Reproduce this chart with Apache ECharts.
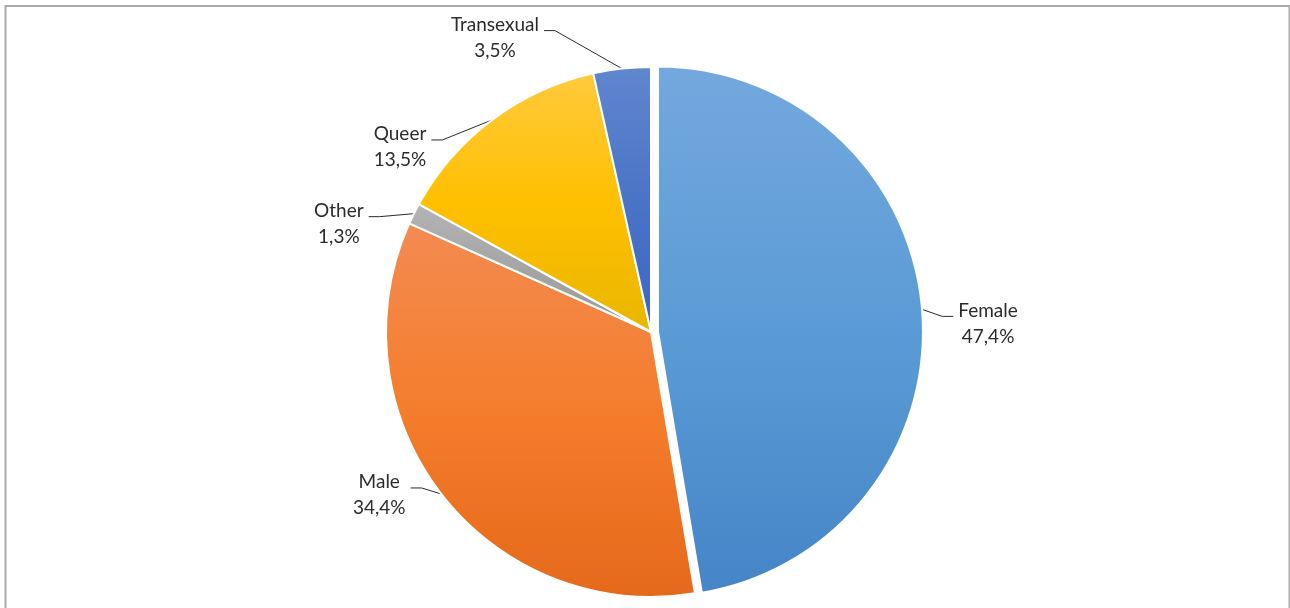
<!DOCTYPE html>
<html>
<head>
<meta charset="utf-8">
<title>Gender identity</title>
<script src="https://cdn.jsdelivr.net/npm/echarts@6/dist/echarts.min.js"></script>
<style>
  html, body { margin: 0; padding: 0; background: #fff; }
  #chart { width: 1290px; height: 608px; }
</style>
</head>
<body>
<div id="chart"></div>
<script>
// Shares per gender identity (percent)
const categories = ['Female', 'Male', 'Other', 'Queer', 'Transexual'];
const shares = [47.4, 34.4, 1.3, 13.5, 3.5];

// Vertical gradient per slice: [top, middle, bottom]
const sliceColors = [
  ['#74a8de', '#5b9bd5', '#4585c8'],
  ['#f38b52', '#f47d2c', '#e5691a'],
  ['#b4b4b4', '#a5a5a5', '#9a9a9a'],
  ['#ffca3e', '#ffc000', '#e8b700'],
  ['#6186cf', '#4a74c6', '#3c66c4']
];

// Where each label block sits relative to its leader-line anchor (px)
const labelOffsets = [[66, 14], [-62, 1], [-75, 10], [-92, 27], [-127, -31]];

const CX = 651, CY = 332, R = 265, EXPLODE = 7;
const explodedIndex = 0;

const fmtPct = v => v.toFixed(1).replace('.', ',') + '%';
const gradient = c => new echarts.graphic.LinearGradient(0, 0, 0, 1, [
  { offset: 0, color: c[0] },
  { offset: 0.5, color: c[1] },
  { offset: 1, color: c[2] }
]);

// Direction of the pulled-out slice: the middle of its angular span, clockwise from 12 o'clock
const total = shares.reduce((a, b) => a + b, 0);
const before = shares.slice(0, explodedIndex).reduce((a, b) => a + b, 0);
const midTheta = (before + shares[explodedIndex] / 2) / total * 2 * Math.PI;
const explodedCenter = [CX + EXPLODE * Math.sin(midTheta), CY - EXPLODE * Math.cos(midTheta)];

const hidden = {
  itemStyle: { color: 'rgba(0,0,0,0)', borderWidth: 0 },
  label: { show: false },
  labelLine: { show: false }
};

// Two layers share the same angles: one holds the pulled-out slice, the other the rest
function layerData(showExploded) {
  return categories.map((name, i) => {
    const visible = (i === explodedIndex) === showExploded;
    const item = { name: name, value: shares[i] };
    if (visible) {
      item.itemStyle = { color: gradient(sliceColors[i]) };
    } else {
      Object.assign(item, hidden);
    }
    return item;
  });
}

const chart = echarts.init(document.getElementById('chart'), null, { renderer: 'canvas' });

function labelLayout(params) {
  const pts = params.labelLinePoints;
  if (!pts || !pts.length || !params.labelRect) {
    return {};
  }
  const anchor = pts[0];
  const off = labelOffsets[params.dataIndex];
  const lx = anchor[0] + off[0];
  const ly = anchor[1] + off[1];
  const half = params.labelRect.width / 2;
  const side = off[0] >= 0 ? 1 : -1;
  const endX = lx - side * (half + 5);
  const endY = ly - 7;
  const bendX = endX - side * 11;
  return {
    x: lx,
    y: ly,
    align: 'center',
    verticalAlign: 'middle',
    labelLinePoints: [[anchor[0], anchor[1]], [bendX, endY], [endX, endY]]
  };
}

const baseSeries = {
  type: 'pie',
  radius: [0, R],
  startAngle: 90,
  clockwise: true,
  selectedMode: false,
  silent: true,
  avoidLabelOverlap: false,
  emphasis: { disabled: true },
  itemStyle: { borderColor: '#fff', borderWidth: 2 },
  label: {
    show: true,
    position: 'outside',
    fontFamily: 'Lato',
    fontSize: 19,
    lineHeight: 26,
    color: '#2b2b2b',
    formatter: p => p.name + '\n' + fmtPct(p.value)
  },
  labelLine: {
    show: true,
    lineStyle: { color: '#2b2b2b', width: 1 }
  },
  labelLayout: labelLayout
};

chart.setOption({
  animation: false,
  backgroundColor: '#fff',
  graphic: [{
    type: 'rect',
    silent: true,
    z: -10,
    shape: { x: 5.5, y: 6, width: 1284, height: 700 },
    style: { fill: 'none', stroke: '#ababab', lineWidth: 2 }
  }],
  series: [
    Object.assign({}, baseSeries, { name: 'rest', center: [CX, CY], data: layerData(false) }),
    Object.assign({}, baseSeries, { name: 'pulled', center: explodedCenter, data: layerData(true) })
  ]
});
</script>
</body>
</html>
